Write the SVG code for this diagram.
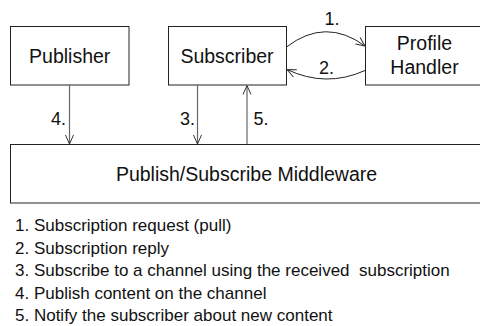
<svg xmlns="http://www.w3.org/2000/svg" width="480" height="326" viewBox="0 0 480 326">
<style>
.box{fill:#fff;stroke:#222;stroke-width:1}
.t{font-family:"Liberation Sans",Arial,sans-serif;font-size:19.5px;fill:#111}
.lbl{font-family:"Liberation Sans",Arial,sans-serif;font-size:18px;fill:#111}
.leg{font-family:"Liberation Sans",Arial,sans-serif;font-size:17px;fill:#111;white-space:pre}
.v{stroke:#666;stroke-width:1.2;fill:none}
.arc{stroke:#222;stroke-width:1;fill:none}
</style>
<defs>
<marker id="ah" markerUnits="userSpaceOnUse" markerWidth="12" markerHeight="12" viewBox="0 0 12 12" refX="10" refY="5" orient="auto">
<path d="M1,1 L10,5 L1,9" fill="none" stroke="#333" stroke-width="1"/>
</marker>
</defs>
<rect width="480" height="326" fill="#fff"/>
<g id="publisher">
<rect class="box" x="10.5" y="26.5" width="118.5" height="58.5"/>
<text class="t" x="69.7" y="62.5" text-anchor="middle">Publisher</text>
</g>
<g id="subscriber">
<rect class="box" x="168.5" y="26.5" width="118" height="58.5"/>
<text class="t" x="227" y="62.5" text-anchor="middle">Subscriber</text>
</g>
<g id="profile-handler">
<rect class="box" x="365.5" y="26.5" width="120" height="58.5"/>
<text class="t" x="424.5" y="50" text-anchor="middle">Profile</text>
<text class="t" x="424.5" y="73.5" text-anchor="middle">Handler</text>
</g>
<g id="middleware">
<rect class="box" x="10.5" y="144.5" width="475" height="58.5"/>
<text class="t" x="246.5" y="181" text-anchor="middle">Publish/Subscribe Middleware</text>
</g>
<g id="connectors">
<path class="arc" d="M286.5,47 Q325.5,17 365,46" marker-end="url(#ah)"/>
<path class="arc" d="M365,70.5 Q326,88 287,69.5" marker-end="url(#ah)"/>
<line class="v" x1="69.5" y1="85" x2="69.5" y2="144" marker-end="url(#ah)"/>
<line class="v" x1="197.5" y1="85" x2="197.5" y2="144" marker-end="url(#ah)"/>
<line class="v" x1="247" y1="144" x2="247" y2="85.5" marker-end="url(#ah)"/>
<text class="lbl" x="324.5" y="25">1.</text>
<text class="lbl" x="319" y="73.5">2.</text>
<text class="lbl" x="51" y="125">4.</text>
<text class="lbl" x="180" y="125">3.</text>
<text class="lbl" x="253.5" y="125">5.</text>
</g>
<g id="legend">
<text class="leg" x="15" y="231">1. Subscription request (pull)</text>
<text class="leg" x="15" y="253.5">2. Subscription reply</text>
<text class="leg" x="15" y="276" xml:space="preserve">3. Subscribe to a channel using the received  subscription</text>
<text class="leg" x="15" y="298.5">4. Publish content on the channel</text>
<text class="leg" x="15" y="321">5. Notify the subscriber about new content</text>
</g>
</svg>
